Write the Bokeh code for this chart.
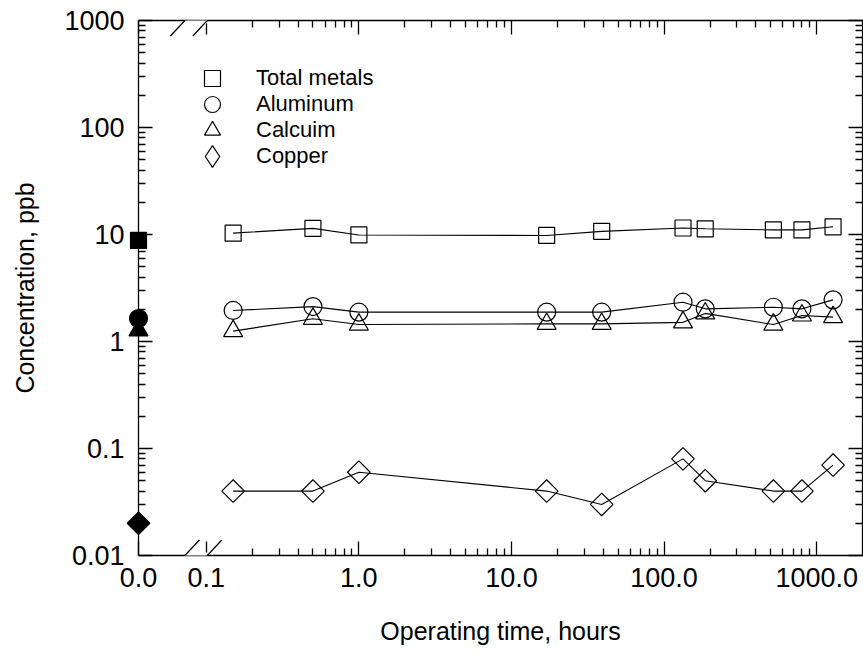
import math
from bokeh.plotting import figure
from bokeh.models import (FixedTicker, CustomJSTickFormatter, LogAxis, Range1d,
                          Legend, LegendItem, Arrow, ColumnDataSource)
from bokeh.embed import file_html
from bokeh.resources import INLINE

# ---------------- data ----------------
hours = [0.15, 0.5, 1.0, 17, 39, 133, 186, 520, 800, 1280]
total_metals = [10.3, 11.4, 9.9, 9.8, 10.7, 11.5, 11.3, 11.05, 11.05, 11.8]
aluminum = [1.95, 2.12, 1.88, 1.88, 1.88, 2.33, 2.02, 2.09, 2.02, 2.45]
calcium = [1.25, 1.63, 1.44, 1.46, 1.46, 1.51, 1.83, 1.44, 1.75, 1.69]
copper = [0.04, 0.04, 0.06, 0.04, 0.03, 0.08, 0.05, 0.04, 0.04, 0.07]

baseline_hours = [0.0]          # shown at the "0.0" position left of the axis break
baseline_total = [8.8]
baseline_aluminum = [1.64]
baseline_calcium = [1.27]
baseline_copper = [0.02]

series_names = ["Total metals", "Aluminum", "Calcuim", "Copper"]
y_ticks = [0.01, 0.1, 1, 10, 100, 1000]
x_ticks = [0.1, 1, 10, 100, 1000]

# ---------------- axis geometry (broken log x-axis) ----------------
X_ZERO_POS = 10 ** -1.444      # where "0.0" sits on the log axis
X_END = 10 ** 3.30
Y_START, Y_END = 0.01, 1000
BREAK_L = 10 ** -1.14
BREAK_R = 10 ** -0.993


def xpos(t):
    return X_ZERO_POS if t == 0 else t


FONT = "Liberation Sans"

p = figure(width=863, height=662, x_axis_type="log", y_axis_type="log",
           x_range=Range1d(X_ZERO_POS, X_END), y_range=Range1d(Y_START, Y_END),
           output_backend="svg", toolbar_location=None,
           min_border_left=138, min_border_right=1, min_border_top=20,
           min_border_bottom=107)
p.outline_line_color = None
p.xgrid.visible = False
p.ygrid.visible = False
p.background_fill_color = "white"

x_minor = [k * 10 ** d for d in range(-1, 4) for k in range(2, 10) if k * 10 ** d < X_END]
y_minor = [k * 10 ** d for d in range(-2, 3) for k in range(2, 10)]
xticker = FixedTicker(ticks=[X_ZERO_POS] + x_ticks, minor_ticks=x_minor)
yticker = FixedTicker(ticks=y_ticks, minor_ticks=y_minor)

xfmt = CustomJSTickFormatter(code="if (tick < 0.05) { return '0.0'; } return tick.toFixed(1);")
yfmt = CustomJSTickFormatter(code="""
const e = Math.round(Math.log10(tick));
if (e >= 0) { return String(Math.round(Math.pow(10, e))); }
return Math.pow(10, e).toFixed(-e);
""")
blank = CustomJSTickFormatter(code="return '';")


def style_axis(ax, labels=True):
    ax.axis_line_color = "black"
    ax.axis_line_width = 1.3
    ax.major_tick_in = 14
    ax.major_tick_out = 0
    ax.minor_tick_in = 7
    ax.minor_tick_out = 0
    ax.major_tick_line_width = 1.3
    ax.minor_tick_line_width = 1.3
    ax.major_tick_line_color = "black"
    ax.minor_tick_line_color = "black"
    ax.major_label_text_font = FONT
    ax.major_label_text_color = "black"
    if labels:
        ax.major_label_text_font_size = "27px"
    else:
        ax.major_label_text_font_size = "0px"
        ax.major_label_standoff = 0


xa = p.xaxis[0]
xa.ticker = xticker
xa.formatter = xfmt
style_axis(xa)
xa.major_label_standoff = 12
xa.axis_label = "Operating time, hours"
xa.axis_label_text_font = FONT
xa.axis_label_text_font_size = "25px"
xa.axis_label_text_font_style = "normal"
xa.axis_label_text_color = "black"
xa.axis_label_standoff = 27

ya = p.yaxis[0]
ya.ticker = yticker
ya.formatter = yfmt
style_axis(ya)
ya.major_label_standoff = 14
ya.axis_label = "Concentration, ppb"
ya.axis_label_text_font = FONT
ya.axis_label_text_font_size = "25px"
ya.axis_label_text_font_style = "normal"
ya.axis_label_text_color = "black"
ya.axis_label_standoff = 22

top = LogAxis(ticker=xticker, formatter=blank)
style_axis(top, labels=False)
p.add_layout(top, "above")
right = LogAxis(ticker=yticker, formatter=blank)
style_axis(right, labels=False)
p.add_layout(right, "right")

# ---------------- series ----------------
xs = [xpos(t) for t in hours]
src = ColumnDataSource(dict(x=xs, total=total_metals, al=aluminum, ca=calcium, cu=copper))
bsrc = ColumnDataSource(dict(x=[xpos(t) for t in baseline_hours], total=baseline_total,
                             al=baseline_aluminum, ca=baseline_calcium, cu=baseline_copper))
# legend swatch source: one row placed far outside the visible range
lsrc = ColumnDataSource(dict(x=[X_ZERO_POS], y=[Y_START * 1e-4]))

specs = [("total", "square", 16, 0.0),
         ("al", "circle", 18, 0.0),
         ("ca", "triangle", 19, 0.0),
         ("cu", "square", 16, math.pi / 4)]

legend_renderers = []
for name, (col, marker, size, ang) in zip(series_names, specs):
    p.line("x", col, source=src, line_color="black", line_width=1.1)
    r = p.scatter("x", col, source=src, marker=marker, size=size, angle=ang,
                  fill_color=None, line_color="black", line_width=1.2)
    if ang != 0.0:
        # the legend draws markers unrotated, so give it a diamond swatch
        r = p.scatter("x", "y", source=lsrc, marker="diamond", size=size,
                      fill_color=None, line_color="black", line_width=1.2)
    legend_renderers.append(r)
    b = p.scatter("x", col, source=bsrc, marker=marker, size=size, angle=ang,
                  fill_color="black", line_color="black", line_width=1.2)
    b.level = "overlay"

# one single-row legend per series so the row pitch can be matched exactly
# (glyph box, x offset, bottom offset, label standoff)
legend_boxes = [(40, 54, 457, 24), (40, 54, 431, 24), (40, 54, 405, 24), (54, 47, 372, 17)]
for name, r, (gb, lx, yb, st) in zip(series_names, legend_renderers, legend_boxes):
    lg = Legend(items=[LegendItem(label=name, renderers=[r])], location=(lx, yb),
                border_line_color=None, background_fill_alpha=0,
                label_text_font=FONT, label_text_font_size="22px",
                label_text_color="black", glyph_width=gb, glyph_height=gb,
                label_height=20, spacing=0, padding=0, margin=0, label_standoff=st)
    p.add_layout(lg)

# ---------------- axis break marks ----------------
for yv in (Y_START, Y_END):
    p.add_layout(Arrow(x_start=BREAK_L, y_start=yv, x_end=BREAK_R, y_end=yv, end=None,
                       line_color="white", line_width=6))
    for xc in (BREAK_L, BREAK_R):
        lx = math.log10(xc)
        ly = math.log10(yv)
        p.add_layout(Arrow(x_start=10 ** (lx - 0.095), y_start=10 ** (ly - 0.145),
                           x_end=10 ** (lx + 0.095), y_end=10 ** (ly + 0.145), end=None,
                           line_color="black", line_width=1.3))

open("out.html", "w").write(file_html(p, INLINE))
